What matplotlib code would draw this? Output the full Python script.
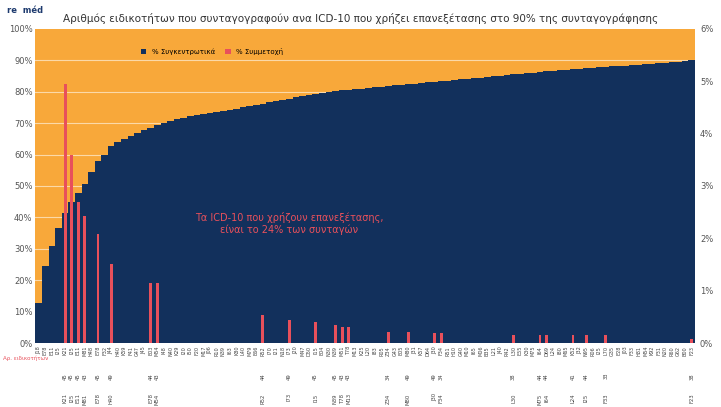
import matplotlib.pyplot as plt
import numpy as np

# cumulative share (%) per ICD-10 code
cumulative = [12.7, 24.5, 31, 36.6, 41.4, 45, 47.8, 50.6, 54.5, 58,
              60, 62.7, 64, 65, 66, 67, 67.8, 68.6, 69.4, 70.2,
              70.8, 71.3, 71.8, 72.2, 72.6, 73, 73.3, 73.6, 73.9, 74.2,
              74.6, 75, 75.4, 75.8, 76.2, 76.6, 77, 77.4, 77.8, 78.2,
              78.6, 79, 79.3, 79.6, 79.9, 80.2, 80.4, 80.6, 80.8, 81,
              81.2, 81.4, 81.6, 81.8, 82, 82.2, 82.4, 82.6, 82.8, 83,
              83.2, 83.3, 83.5, 83.7, 83.9, 84.1, 84.3, 84.5, 84.7, 84.9,
              85.1, 85.3, 85.5, 85.7, 85.9, 86.1, 86.3, 86.5, 86.7, 86.85,
              87, 87.15, 87.3, 87.45, 87.6, 87.75, 87.9, 88.05, 88.2, 88.35,
              88.5, 88.65, 88.8, 88.95, 89.1, 89.25, 89.4, 89.55, 89.7, 90]

# share (%) of codes that need review, by category index
share_idx = [4, 5, 6, 7, 9, 11, 17, 18, 34, 38, 42, 45, 46, 47, 53, 56, 60, 61,
             72, 76, 77, 81, 83, 86, 99]
share_val = [4.95, 3.6, 2.7, 2.43, 2.08, 1.51, 1.15, 1.15, 0.53, 0.45, 0.4, 0.35,
             0.3, 0.3, 0.22, 0.22, 0.2, 0.2, 0.15, 0.15, 0.15, 0.15, 0.15, 0.15, 0.08]
spec_count = ['45', '45', '45', '43', '45', '49', '44', '43', '44', '49', '45', '45',
              '43', '43', '34', '49', '49', '34', '38', '44', '44', '41', '44', '33', '38']
spec_code = ['K21', 'I25', 'E11', 'M81', 'E78', 'H40', 'E78', 'M54', 'R52', 'I73', 'I15', 'N39',
             'T78', 'M13', 'Z34', 'M80', 'J30', 'F34', 'L30', 'M75', 'I64', 'L24', 'I25', 'F33', 'F23']

codes = ('J18 E78 E11 I25 K21 I25 E11 M81 H48 E78 F32 J44 H40 K59 F41 G47 J45 E03 M54 I48 '
         'N40 K29 I20 I50 F20 M17 J06 R10 N39 I63 K80 L40 M79 E66 R52 I70 I21 N18 I73 J20 '
         'M47 D50 I15 E04 N30 N39 M51 T78 M13 K25 L20 I83 R05 Z34 G43 E05 M80 J31 K57 D64 '
         'J30 F34 R51 H10 G40 M10 I65 M06 B35 L21 J40 R42 L30 E55 K30 M75 I64 D69 L24 I80 '
         'M65 K52 J32 N95 R06 I25 L70 G35 E28 J03 F33 H81 M54 K92 F31 N20 R60 G62 B00 F23').split()

navy = '#12305c'
orange = '#f8a83a'
red = '#e8505b'

x = np.arange(len(cumulative))

fig = plt.figure(figsize=(7.21, 4.07), dpi=100)
ax = fig.add_axes([0.049, 0.157, 0.915, 0.772])
ax.bar(x, [100] * len(x), width=1.0, color=orange, zorder=1)
for yv in range(10, 100, 10):
    ax.axhline(yv, color='#fbd9a8', lw=0.8, zorder=1.5)
ax.bar(x, cumulative, width=1.0, color=navy, zorder=2, label='% Συγκεντρωτικά')
ax.set_xlim(-0.5, len(x) - 0.5)
ax.set_ylim(0, 100)
ax.set_yticks(range(0, 101, 10))
ax.set_yticklabels([f'{v}%' for v in range(0, 101, 10)], fontsize=6, color='#555555')
ax.set_xticks(x)
ax.set_xticklabels(codes, rotation=90, fontsize=3.5, color='#444444')
ax.tick_params(length=0, pad=2)
for s in ax.spines.values():
    s.set_visible(False)

ax2 = ax.twinx()
ax2.bar(share_idx, share_val, width=0.45, color=red, zorder=3, label='% Συμμετοχή')
ax2.set_ylim(0, 6)
ax2.set_yticks(range(0, 7))
ax2.set_yticklabels([f'{v}%' for v in range(0, 7)], fontsize=6, color='#555555')
ax2.tick_params(length=0)
for s in ax2.spines.values():
    s.set_visible(False)

# specialist counts and codes below the axis
for i, n, c in zip(share_idx, spec_count, spec_code):
    ax.text(i, -0.095, n, transform=ax.get_xaxis_transform(), rotation=90,
            fontsize=3.8, ha='center', va='top', color='#444444')
    ax.text(i, -0.16, c, transform=ax.get_xaxis_transform(), rotation=90,
            fontsize=3.8, ha='center', va='top', color='#444444')
fig.text(0.004, 0.12, 'Αρ. ειδικοτήτων', fontsize=4, ha='left', va='center', color=red)

h1, l1 = ax.get_legend_handles_labels()
h2, l2 = ax2.get_legend_handles_labels()
ax2.legend(h1[-1:] + h2, l1[-1:] + l2, loc='upper left', bbox_to_anchor=(0.15, 0.96),
           ncol=2, frameon=False, fontsize=5, handlelength=0.8, columnspacing=1.5)

ax.text(38, 38, 'Τα ICD-10 που χρήζουν επανεξέτασης,\nείναι το 24% των συνταγών',
        ha='center', va='center', fontsize=7, color=red, zorder=5)

fig.text(0.5, 0.955, 'Αριθμός ειδικοτήτων που συνταγογραφούν ανα ICD-10 που χρήζει επανεξέτασης στο 90% της συνταγογράφησης',
         ha='center', va='center', fontsize=7.5, color='#333333')
fig.text(0.01, 0.985, 're  méd', ha='left', va='top', fontsize=6, color='#1d3a6e', fontweight='bold')

fig.savefig('out.png', dpi=100)
